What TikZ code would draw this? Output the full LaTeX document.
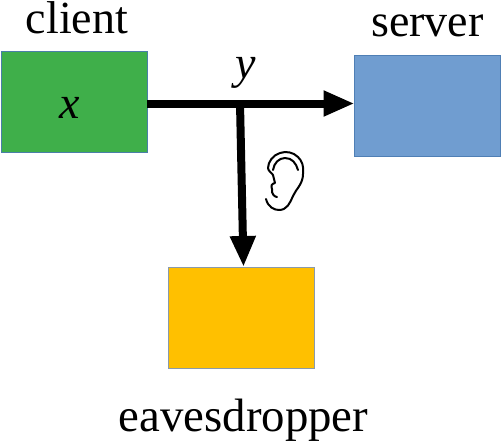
\documentclass[tikz,border=0pt]{standalone}
\usepackage{fontspec}
\setmainfont{Liberation Serif}
\usetikzlibrary{arrows.meta}
\definecolor{cgreen}{HTML}{3FAF4A}
\definecolor{cgreenb}{HTML}{4A7FA8}
\definecolor{cblue}{HTML}{709DD0}
\definecolor{cblueb}{HTML}{4F7FB5}
\definecolor{corange}{HTML}{FFC000}
\definecolor{corangeb}{HTML}{8A9AAA}
\tikzset{
  box/.style={minimum width=146pt,minimum height=101pt,inner sep=0pt,outer sep=0pt,line width=0.6pt},
  lab/.style={inner sep=0pt,outer sep=0pt,font=\fontsize{46}{46}\selectfont,anchor=base},
  var/.style={inner sep=0pt,outer sep=0pt,font=\fontsize{46}{46}\selectfont\itshape,anchor=base},
  flow/.style={line width=8pt,-{Triangle[length=31pt,width=24pt]}},
  earline/.style={line width=2pt,line cap=round,line join=round}
}
\begin{document}
\begin{tikzpicture}[x=1pt,y=-1pt]
\useasboundingbox (0,0) rectangle (502,442);
\node[box,draw=cgreenb,fill=cgreen] (client) at (74,101.5) {};
\node[box,draw=cblueb,fill=cblue] (server) at (427.5,106) {};
\node[box,draw=corangeb,fill=corange] (eve) at (241.5,318) {};
\node[lab] (clab) at (77,33) {client};
\node[lab] (slab) at (427.5,36) {server};
\node[lab,font=\fontsize{46.8}{46.8}\selectfont] (elab) at (243.5,431.5) {eavesdropper};
\node[var] (xv) at (70,118) {x};
\node[var] (yv) at (246,78) {y};
\coordinate (tap) at (240,103.5);
\coordinate (evetop) at (243.5,267);
\draw[flow] ([yshift=-2pt]client.east) -- ([yshift=2.5pt]server.west);
\draw[flow] (tap) -- (evetop);
% ear
\draw[earline] (266,199) .. controls (268,207) and (274,210) .. (279,210)
  .. controls (287,210) and (290,203) .. (293,196)
  .. controls (296,189) and (303,184) .. (303,174)
  .. controls (304,166) and (302,161) .. (298,157)
  .. controls (293,152) and (286,151) .. (280,153)
  .. controls (273,155) and (268,162) .. (268,168)
  .. controls (268,171) and (272,173) .. (273,175)
  .. controls (274,178) and (274,180) .. (275,183)
  .. controls (271,184) and (271,186) .. (272,189)
  .. controls (271,194) and (275,197) .. (277,197);
\draw[earline] (273,170) .. controls (274,163) and (279,158) .. (285,158)
  .. controls (292,158) and (296,163) .. (298,170);
\end{tikzpicture}
\end{document}
